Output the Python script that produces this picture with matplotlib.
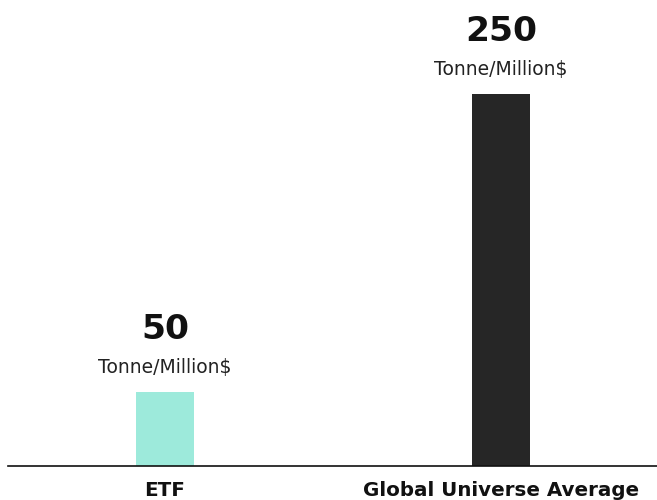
import matplotlib
matplotlib.use("Agg")
import matplotlib.pyplot as plt

categories = ["ETF", "Global Universe Average"]
values = [50, 250]
value_labels = ["50", "250"]
unit_label = "Tonne/Million$"
colors = ["#9deadb", "#262626"]

W, H = 657, 500
fig = plt.figure(figsize=(W / 100, H / 100), dpi=100)
left_px = 8
ax = fig.add_axes([left_px / W, 34 / H, (W - left_px) / W, 466 / H])

x = list(range(len(categories)))
width = 58 / 336
ax.bar(x, values, width=width, color=colors, zorder=2)
ax.set_xlim(-(165 - left_px) / 336, 1 + 156 / 336)
ax.set_ylim(0, 250 * 466 / 372)

for s in ["top", "right", "left"]:
    ax.spines[s].set_visible(False)
ax.spines["bottom"].set_color("#111111")
ax.spines["bottom"].set_linewidth(1.2)
ax.set_yticks([])
ax.set_xticks([])

fam = ["DejaVu Sans"]
for xi, cat in zip(x, categories):
    ax.annotate(cat, (xi, 0), xytext=(0, -30), textcoords="offset pixels",
                ha="center", va="baseline", fontsize=14.3, fontweight="bold",
                family=fam, color="#111111", annotation_clip=False)

for xi, v, lab in zip(x, values, value_labels):
    ax.annotate(lab, (xi, v), xytext=(0, 53), textcoords="offset pixels",
                ha="center", va="baseline", fontsize=24.8, fontweight="heavy",
                family=fam, color="#111111")
    ax.annotate(unit_label, (xi, v), xytext=(0, 19), textcoords="offset pixels",
                ha="center", va="baseline", fontsize=13.5,
                family=fam, color="#222222")

fig.savefig("out.png", dpi=100)
